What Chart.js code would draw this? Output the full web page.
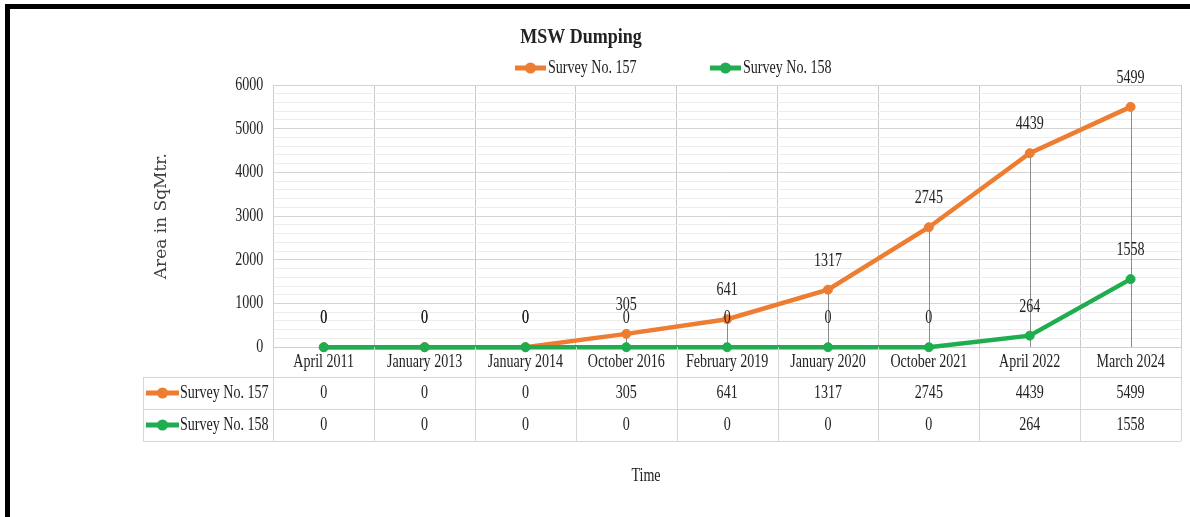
<!DOCTYPE html>
<html>
<head>
<meta charset="utf-8">
<script src="https://cdn.jsdelivr.net/npm/chart.js@4/dist/chart.umd.min.js"></script>
<style>
  html, body { margin: 0; padding: 0; background: #fff; }
  #wrap { width: 1190px; height: 517px; position: relative; }
</style>
</head>
<body>
<div id="wrap"><canvas id="c" width="1190" height="517"></canvas></div>
<script>
// ---------------- data ----------------
const categories = ['April 2011', 'January 2013', 'January 2014', 'October 2016', 'February 2019', 'January 2020', 'October 2021', 'April 2022', 'March 2024'];
const survey157 = [0, 0, 0, 305, 641, 1317, 2745, 4439, 5499];
const survey158 = [0, 0, 0, 0, 0, 0, 0, 264, 1558];
const seriesNames = ['Survey No. 157', 'Survey No. 158'];
const chartTitle = 'MSW Dumping';
const yAxisTitle = 'Area in SqMtr.';
const xAxisTitle = 'Time';
const yMin = 0, yMax = 6000, yMajorStep = 1000, yMinorStep = 200;

// ---------------- styles ----------------
const ORANGE = '#ed7d31';
const GREEN = '#1fad50';
const TEXT = '#222222';
const FAM = "'Liberation Serif'";

// Condensed look of the original serif text
(function () {
  const P = CanvasRenderingContext2D.prototype;
  const fill = P.fillText, measure = P.measureText;
  function sx(ctx) {
    const f = ctx.font || '';
    if (f.indexOf('Liberation Serif') < 0) return 1;
    return /bold|700/.test(f) ? 0.9 : 0.74;
  }
  P.fillText = function (t, x, y, mw) {
    const s = sx(this);
    if (s === 1) return fill.apply(this, arguments);
    this.save();
    this.translate(x, y);
    this.scale(s, 1);
    if (mw !== undefined) fill.call(this, t, 0, 0, mw / s); else fill.call(this, t, 0, 0);
    this.restore();
  };
  P.measureText = function (t) {
    const m = measure.call(this, t);
    const s = sx(this);
    if (s === 1) return m;
    return {
      width: m.width * s,
      actualBoundingBoxAscent: m.actualBoundingBoxAscent,
      actualBoundingBoxDescent: m.actualBoundingBoxDescent,
      actualBoundingBoxLeft: m.actualBoundingBoxLeft * s,
      actualBoundingBoxRight: m.actualBoundingBoxRight * s,
      fontBoundingBoxAscent: m.fontBoundingBoxAscent,
      fontBoundingBoxDescent: m.fontBoundingBoxDescent
    };
  };
})();

const seriesData = [survey157, survey158];
const seriesColors = [ORANGE, GREEN];

function drawKey(c, x1, x2, y, color) {
  c.save();
  c.strokeStyle = color;
  c.fillStyle = color;
  c.lineWidth = 5;
  c.lineCap = 'butt';
  c.beginPath(); c.moveTo(x1, y); c.lineTo(x2, y); c.stroke();
  c.beginPath(); c.arc((x1 + x2) / 2, y, 5.5, 0, Math.PI * 2); c.fill();
  c.restore();
}

const decorPlugin = {
  id: 'decor',
  beforeDraw(chart) {
    const c = chart.ctx;
    c.save();
    c.fillStyle = '#ffffff';
    c.fillRect(0, 0, chart.width, chart.height);
    c.restore();
  },
  beforeDatasetsDraw(chart) {
    // drop lines
    const xs = chart.scales.x, ys = chart.scales.y, c = chart.ctx;
    c.save();
    c.strokeStyle = '#8c8c8c';
    c.lineWidth = 1;
    categories.forEach((_, i) => {
      const top = Math.max(survey157[i], survey158[i]);
      if (top <= 0) return;
      const px = Math.round(xs.getPixelForValue(i)) + 0.5;
      c.beginPath();
      c.moveTo(px, ys.getPixelForValue(top));
      c.lineTo(px, ys.getPixelForValue(0));
      c.stroke();
    });
    c.restore();
  },
  afterDatasetsDraw(chart) {
    // data labels
    const c = chart.ctx;
    c.save();
    c.font = '19px ' + FAM;
    c.fillStyle = TEXT;
    c.textAlign = 'center';
    c.textBaseline = 'middle';
    seriesData.forEach((arr, di) => {
      const meta = chart.getDatasetMeta(di);
      meta.data.forEach((pt, i) => {
        c.fillText(String(arr[i]), pt.x, pt.y - 29);
      });
    });
    c.restore();
  },
  afterDraw(chart) {
    const c = chart.ctx, a = chart.chartArea, xs = chart.scales.x;
    const n = categories.length;
    const colW = (a.right - a.left) / n;
    const tableLeft = 143, rowTop = 377, rowH = 32;
    const tableBottom = rowTop + rowH * seriesData.length;

    c.save();
    // table grid
    c.strokeStyle = '#d6d6d6';
    c.lineWidth = 1;
    for (let r = 0; r <= seriesData.length; r++) {
      const y = Math.round(rowTop + r * rowH) + 0.5;
      c.beginPath(); c.moveTo(tableLeft, y); c.lineTo(a.right, y); c.stroke();
    }
    c.beginPath(); c.moveTo(tableLeft + 0.5, rowTop); c.lineTo(tableLeft + 0.5, tableBottom); c.stroke();
    for (let i = 0; i <= n; i++) {
      const px = Math.round(xs.getPixelForValue(i) - colW / 2) + 0.5;
      c.beginPath(); c.moveTo(px, a.bottom); c.lineTo(px, tableBottom); c.stroke();
    }
    // table cells
    c.font = '19px ' + FAM;
    c.fillStyle = TEXT;
    c.textBaseline = 'middle';
    seriesData.forEach((arr, r) => {
      const cy = rowTop + r * rowH + rowH / 2;
      drawKey(c, tableLeft + 3, tableLeft + 36, cy, seriesColors[r]);
      c.fillStyle = TEXT;
      c.textAlign = 'left';
      c.fillText(seriesNames[r], tableLeft + 37, cy);
      c.textAlign = 'center';
      arr.forEach((v, i) => c.fillText(String(v), xs.getPixelForValue(i), cy));
    });

    // x axis title
    c.textAlign = 'center';
    c.fillText(xAxisTitle, 646, 476);

    // chart title
    c.font = 'bold 20px ' + FAM;
    c.fillText(chartTitle, 581, 38);

    // legend
    c.font = '19px ' + FAM;
    c.textAlign = 'left';
    const legendX = [515, 710];
    seriesNames.forEach((nm, i) => {
      drawKey(c, legendX[i], legendX[i] + 31, 68, seriesColors[i]);
      c.fillStyle = TEXT;
      c.fillText(nm, legendX[i] + 33, 68);
    });

    // frame
    c.fillStyle = '#000000';
    c.fillRect(5, 4, chart.width - 5, 5);
    c.fillRect(5, 4, 5, chart.height - 4);
    c.restore();
  }
};

new Chart(document.getElementById('c'), {
  type: 'line',
  data: {
    labels: categories,
    datasets: [
      {
        label: seriesNames[0], data: survey157, order: 2,
        borderColor: ORANGE, backgroundColor: ORANGE, borderWidth: 4.5,
        pointRadius: 4.5, pointBorderWidth: 1, pointBackgroundColor: ORANGE, pointBorderColor: ORANGE,
        tension: 0, clip: false
      },
      {
        label: seriesNames[1], data: survey158, order: 1,
        borderColor: GREEN, backgroundColor: GREEN, borderWidth: 4.5,
        pointRadius: 4.5, pointBorderWidth: 1, pointBackgroundColor: GREEN, pointBorderColor: GREEN,
        tension: 0, clip: false
      }
    ]
  },
  options: {
    responsive: false,
    animation: false,
    devicePixelRatio: 1,
    layout: { padding: { top: 85, right: 9, bottom: 141, left: 10 } },
    plugins: {
      legend: { display: false },
      title: { display: false },
      tooltip: { enabled: false }
    },
    scales: {
      x: {
        type: 'category',
        offset: true,
        grid: { offset: true, color: '#c9c9c9', drawTicks: false },
        border: { color: '#d0d0d0' },
        ticks: { color: TEXT, font: { family: FAM, size: 19 }, padding: 3, autoSkip: false, maxRotation: 0 }
      },
      y: {
        min: yMin, max: yMax,
        grid: {
          drawTicks: false,
          color: (ctx) => (ctx.tick && ctx.tick.value % yMajorStep === 0) ? '#d3d3d3' : '#ececec'
        },
        border: { color: '#d0d0d0' },
        ticks: {
          stepSize: yMinorStep, autoSkip: false, padding: 10, color: TEXT,
          font: { family: FAM, size: 19 },
          callback: (v) => (v % yMajorStep === 0 ? String(v) : '')
        },
        title: {
          display: true, text: yAxisTitle, color: '#404040',
          font: { family: "'DejaVu Serif'", size: 17 },
          padding: { top: 141, bottom: 53.8 }
        }
      }
    }
  },
  plugins: [decorPlugin]
});
</script>
</body>
</html>
